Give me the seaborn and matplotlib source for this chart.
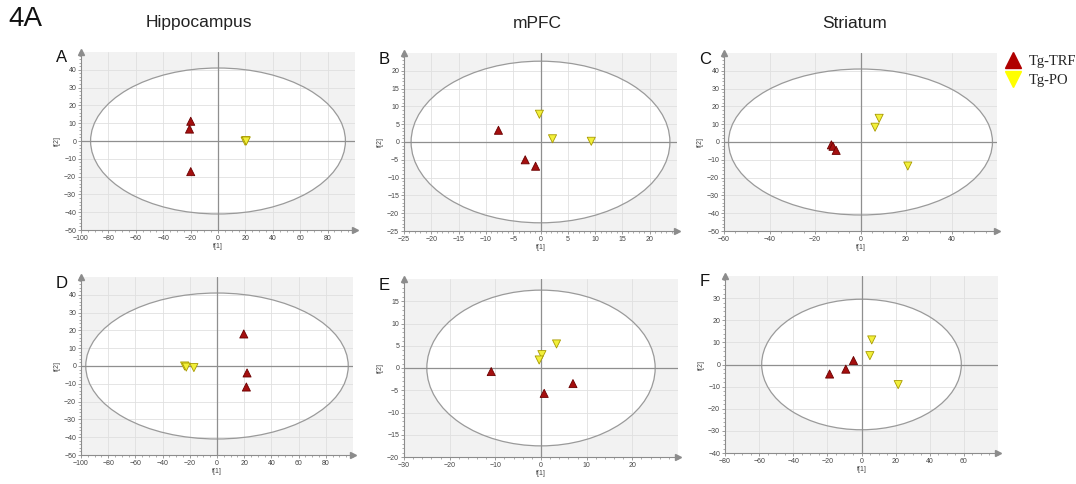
import numpy as np
import pandas as pd
import matplotlib
matplotlib.use("Agg")
import matplotlib.pyplot as plt
from matplotlib.patches import Ellipse
from matplotlib.lines import Line2D
import seaborn as sns

sns.set_theme(style="white")
plt.rcParams['font.family'] = ['Liberation Sans', 'DejaVu Sans']

# ---------------- data ----------------
groups = ["Tg-TRF", "Tg-PO"]
regions = ["Hippocampus", "mPFC", "Striatum"]
panel_letters = ["A", "B", "C", "D", "E", "F"]

# Panel A (Hippocampus, top)
A_trf_x = [-19.9, -20.8, -19.9]
A_trf_y = [11.1, 6.7, -17.2]
A_po_x = [20.3, 19.8, 20.6]
A_po_y = [0.2, -0.1, 0.0]
# Panel B (mPFC, top)
B_trf_x = [-7.7, -2.8, -0.9]
B_trf_y = [3.3, -5.0, -6.8]
B_po_x = [-0.2, 2.2, 9.3]
B_po_y = [7.8, 0.9, 0.2]
# Panel C (Striatum, top)
C_trf_x = [-12.8, -12.1, -10.7]
C_trf_y = [-1.6, -2.4, -4.7]
C_po_x = [8.2, 6.4, 20.8]
C_po_y = [13.3, 8.3, -13.5]
# Panel D (Hippocampus, bottom)
D_trf_x = [19.7, 22.1, 21.6]
D_trf_y = [18.0, -3.9, -11.8]
D_po_x = [-23.8, -22.6, -17.0]
D_po_y = [0.0, -0.6, -0.9]
# Panel E (mPFC, bottom)
E_trf_x = [-10.9, 0.7, 7.0]
E_trf_y = [-0.8, -5.7, -3.5]
E_po_x = [3.4, 0.2, -0.4]
E_po_y = [5.4, 3.0, 1.8]
# Panel F (Striatum, bottom)
F_trf_x = [-18.7, -9.2, -4.7]
F_trf_y = [-4.3, -2.1, 1.8]
F_po_x = [6.0, 4.9, 21.5]
F_po_y = [11.1, 4.0, -9.1]

# Hotelling T2 ellipse half-axes (t[1], t[2]) per panel
ell_a = [93, 23.7, 58, 96.5, 25, 58.5]
ell_b = [41, 22.7, 41, 41, 17.5, 29.5]

# axis ranges / tick positions per panel
x_lims = [(-100, 100), (-25, 25), (-60, 60), (-100, 100), (-30, 30), (-80, 80)]
y_lims = [(-50, 50), (-25, 25), (-50, 50), (-50, 50), (-20, 20), (-40, 40)]
x_ticks = [list(range(-100, 100, 20)), list(range(-25, 25, 5)), list(range(-60, 60, 20)),
           list(range(-100, 100, 20)), list(range(-30, 30, 10)), list(range(-80, 80, 20))]
y_ticks = [list(range(-50, 50, 10)), list(range(-25, 25, 5)), list(range(-50, 50, 10)),
           list(range(-50, 50, 10)), list(range(-20, 20, 5)), list(range(-40, 40, 10))]

panels = [
    (A_trf_x, A_trf_y, A_po_x, A_po_y),
    (B_trf_x, B_trf_y, B_po_x, B_po_y),
    (C_trf_x, C_trf_y, C_po_x, C_po_y),
    (D_trf_x, D_trf_y, D_po_x, D_po_y),
    (E_trf_x, E_trf_y, E_po_x, E_po_y),
    (F_trf_x, F_trf_y, F_po_x, F_po_y),
]

# ---------------- styling ----------------
W, H = 1076, 484
fig = plt.figure(figsize=(W / 100, H / 100), dpi=100)
fig.patch.set_facecolor("white")

# axes boxes in pixels: left, top, right, bottom
boxes = [(81, 52, 355, 230), (404, 53, 677, 231), (724, 53, 997, 231),
         (81, 277, 353, 455), (404, 279, 678, 457), (725, 276, 998, 453)]

red = "#a50f0f"
red_edge = "#6a0000"
yel = "#f2f03a"
yel_edge = "#a89a00"
palette = {"Tg-TRF": red, "Tg-PO": yel}
markers = {"Tg-TRF": "^", "Tg-PO": "v"}
axis_gray = "#8c8c8c"

for i, (box, pdata) in enumerate(zip(boxes, panels)):
    l, t, r, b = box
    ax = fig.add_axes([l / W, 1 - b / H, (r - l) / W, (b - t) / H])
    ax.set_facecolor("#f2f2f2")
    ax.set_xlim(*x_lims[i])
    ax.set_ylim(*y_lims[i])
    ax.set_xticks(x_ticks[i])
    ax.set_yticks(y_ticks[i])
    ax.set_axisbelow(True)
    ax.grid(True, color="#e0e0e0", lw=0.6, zorder=1)

    ell = Ellipse((0, 0), 2 * ell_a[i], 2 * ell_b[i], facecolor="white",
                  edgecolor="none", zorder=0.5)
    ax.add_patch(ell)
    ell2 = Ellipse((0, 0), 2 * ell_a[i], 2 * ell_b[i], facecolor="none",
                   edgecolor="#9a9a9a", lw=0.9, zorder=2)
    ax.add_patch(ell2)
    ax.axhline(0, color="#8f8f8f", lw=0.9, zorder=2)
    ax.axvline(0, color="#8f8f8f", lw=0.9, zorder=2)

    tx, ty, px_, py_ = pdata
    df = pd.DataFrame({
        "t1": list(tx) + list(px_),
        "t2": list(ty) + list(py_),
        "group": ["Tg-TRF"] * len(tx) + ["Tg-PO"] * len(px_),
    })
    for g, ec in (("Tg-TRF", red_edge), ("Tg-PO", yel_edge)):
        sns.scatterplot(data=df[df.group == g], x="t1", y="t2", hue="group",
                        style="group", palette=palette, markers=markers,
                        s=34, edgecolor=ec, linewidth=0.6, ax=ax, legend=False,
                        zorder=3)

    for side in ("top", "right"):
        ax.spines[side].set_visible(False)
    for side in ("left", "bottom"):
        ax.spines[side].set_color(axis_gray)
        ax.spines[side].set_linewidth(0.8)
    ax.plot(1, 0, ">", color=axis_gray, ms=4, transform=ax.transAxes, clip_on=False, zorder=5)
    ax.plot(0, 1, "^", color=axis_gray, ms=4, transform=ax.transAxes, clip_on=False, zorder=5)

    ax.minorticks_on()
    ax.tick_params(which="major", direction="out", length=2.5, width=0.6,
                   colors=axis_gray, labelcolor="#444444", labelsize=5, pad=1,
                   left=True, bottom=True)
    ax.tick_params(which="minor", direction="out", length=1.5, width=0.5,
                   colors=axis_gray, left=True, bottom=True)
    ax.set_xlabel("t[1]", fontsize=5, color="#444444", labelpad=1)
    ax.set_ylabel("t[2]", fontsize=5, color="#444444", labelpad=2)

    fig.text((l - 25) / W, 1 - (t + 6) / H, panel_letters[i], fontsize=12,
             color="#111111", ha="left", va="center")

# column titles
for cx, name in zip([199, 537, 855], regions):
    fig.text(cx / W, 1 - 23 / H, name, fontsize=12.5, color="#222222",
             ha="center", va="center")
fig.text(8 / W, 1 - 19 / H, "4A", fontsize=20, color="#111111", ha="left", va="center")

# legend
leg_colors = {"Tg-TRF": "#b00000", "Tg-PO": "#ffff00"}
handles = [Line2D([], [], marker=markers[g], color=leg_colors[g], ls="none",
                  markersize=12, markeredgecolor=leg_colors[g]) for g in groups]
fig.legend(handles, groups, loc="upper left", bbox_to_anchor=(1000 / W, 1 - 49 / H),
           frameon=False, prop={"family": "Liberation Serif", "size": 10.5},
           handletextpad=0.6, labelspacing=0.4, borderaxespad=0, handlelength=1.0)

fig.savefig("out.png", dpi=100, facecolor="white")
